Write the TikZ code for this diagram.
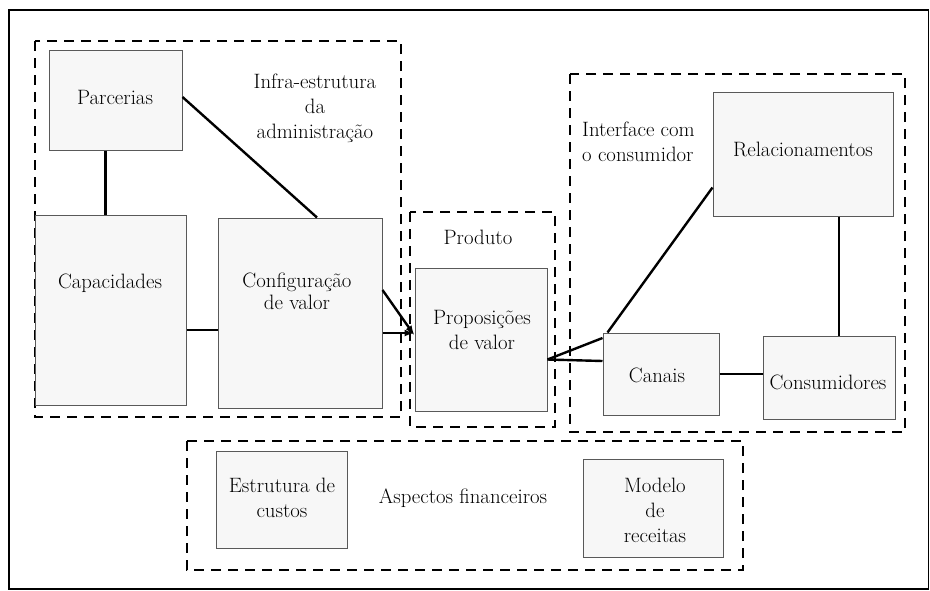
\documentclass[tikz,border=0pt]{standalone}
\usetikzlibrary{arrows.meta,calc}
\begin{document}
\begin{tikzpicture}[x=1pt,y=-1pt,
  box/.style={draw=black!65,line width=1pt,fill=black!3,inner sep=0pt},
  lbl/.style={font=\rmfamily\fontsize{20.8}{25}\selectfont,align=center,inner sep=0pt},
  grp/.style={draw=black,line width=2.8pt,dash pattern=on 10pt off 7pt},
  link/.style={draw=black,line width=2.4pt},
  arr/.style={link,-{Latex[length=10pt,width=7pt]}}]
\useasboundingbox (0,0) rectangle (930,590);
\draw[line width=1.3pt] (9,10) rectangle (928.5,589);

% dashed groups
\draw[grp] (35,41) rectangle (401,417);
\draw[grp] (410,212) rectangle (555,427);
\draw[grp] (570,74) rectangle (905,432);
\draw[grp] (187,441) rectangle (743,570);

% boxes
\node[box,minimum width=133pt,minimum height=100pt] (parc) at (115.5,100) {};
\node[box,minimum width=151pt,minimum height=190pt] (cap) at (110.5,310) {};
\node[box,minimum width=164pt,minimum height=190pt] (conf) at (300,313) {};
\node[box,minimum width=132pt,minimum height=143pt] (prop) at (481,339.5) {};
\node[box,minimum width=180pt,minimum height=124pt] (rel) at (803,154) {};
\node[box,minimum width=116pt,minimum height=82pt] (can) at (661,374) {};
\node[box,minimum width=132pt,minimum height=83pt] (cons) at (829,377.5) {};
\node[box,minimum width=131pt,minimum height=97pt] (est) at (281.5,499.5) {};
\node[box,minimum width=140pt,minimum height=98pt] (mod) at (653,508) {};

% labels
\node[lbl] (parct) at (115,97) {Parcerias};
\node[lbl] (capt) at (110,283) {Capacidades};
\node[lbl] (conft) at (297,291) {Configuração\\[-3pt]de valor};
\node[lbl] (propt) at (482,330) {Proposições\\de valor};
\node[lbl] (relt) at (803,149) {Relacionamentos};
\node[lbl] (cant) at (657,375) {Canais};
\node[lbl] (const) at (828,382) {Consumidores};
\node[lbl] (estt) at (282,498) {Estrutura de\\custos};
\node[lbl] (modt) at (655,510) {Modelo\\de\\receitas};
\node[lbl] (fint) at (463,498) {Aspectos financeiros};
\node[lbl] (prodt) at (478,237) {Produto};
\node[lbl] (infrat) at (315,108) {Infra-estrutura\\da\\administração};
\node[lbl,align=left,anchor=west] (intt) at (582,142) {Interface com\\o consumidor};

% connectors
\draw[link] ([xshift=-10pt]parc.south) -- ([xshift=-10pt]parc.south |- cap.north);
\draw[link] ([yshift=3pt]parc.east) -- ([xshift=17pt]conf.north);
\draw[link] ([yshift=-20pt]cap.east) -- ([yshift=-20pt]cap.east -| conf.west);
\draw[arr] ([yshift=23pt]conf.east) -- ([yshift=4pt]prop.west);
\draw[arr] ([yshift=-20pt]conf.east) -- ([yshift=-20pt]conf.east -| prop.west);
\draw[link] ([yshift=-20pt]prop.east) -- ([yshift=36pt]can.west);
\draw[link] ([yshift=-20pt]prop.east) -- ([yshift=13pt]can.west);
\draw[link] ([xshift=5pt]can.north west) -- ([yshift=29pt]rel.south west);
\draw[link] (can.east) -- (can.east -| cons.west);
\draw[link] ([xshift=36pt]rel.south) -- ([xshift=36pt]rel.south |- cons.north);
\end{tikzpicture}
\end{document}
